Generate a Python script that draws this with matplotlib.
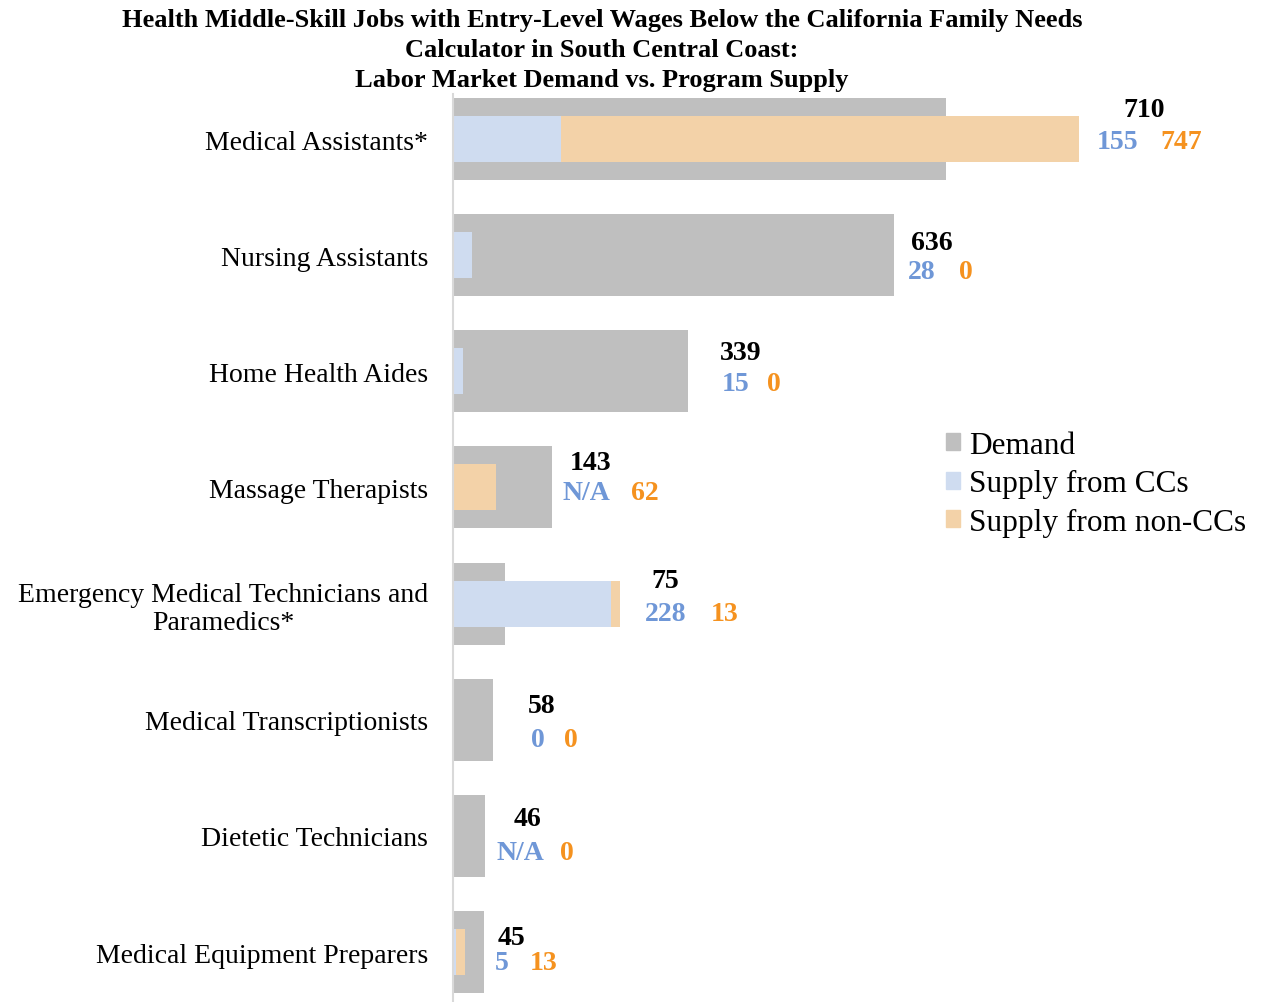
import matplotlib
matplotlib.use("Agg")
import matplotlib.pyplot as plt
from matplotlib.patches import Patch
from matplotlib.transforms import IdentityTransform

plt.rcParams["font.family"] = ["Liberation Serif", "DejaVu Serif"]

# data
categories = [
    "Medical Assistants*",
    "Nursing Assistants",
    "Home Health Aides",
    "Massage Therapists",
    "Emergency Medical Technicians and\nParamedics*",
    "Medical Transcriptionists",
    "Dietetic Technicians",
    "Medical Equipment Preparers",
]
demand = [710, 636, 339, 143, 75, 58, 46, 45]
supply_cc = [155, 28, 15, None, 228, 0, None, 5]   # None = N/A
supply_noncc = [747, 0, 0, 62, 13, 0, 0, 13]

title = ("Health Middle-Skill Jobs with Entry-Level Wages Below the California Family Needs\n"
         "Calculator in South Central Coast:\n"
         "Labor Market Demand vs. Program Supply")

# colours
c_demand = "#bfbfbf"
c_cc = "#cfdcf0"
c_noncc = "#f3d2a8"
c_cc_txt = "#6f97d7"
c_noncc_txt = "#f5921f"

# label layout tweaks (pixels): gap after bar, top-line shift, bottom-line drop, top-line rise, gap blue->orange
pad_x = [18, 13, 33, 10, 25, 38, 12, 11]
top_dx = [26, 4, -1, 8, 6, -3, 17, 2]
bot_dy = [2, 16, 12, 5, 10, 20, 17, 10]
top_rise = [32, 29, 31, 30, 33, 34, 34, 25]
mid_gap = [22, 24, 18, 21, 24, 19, 15, 21]

W, H = 1262, 1003
fig = plt.figure(figsize=(W / 100, H / 100), dpi=100)
ax = fig.add_axes([453 / W, 0, (W - 453) / W, 1 - 95 / H])

cc_vals = [v if v is not None else 0 for v in supply_cc]
ypos = list(range(len(categories)))

ax.barh(ypos, demand, height=0.706, color=c_demand, label="Demand")
ax.barh(ypos, cc_vals, height=0.396, color=c_cc, label="Supply from CCs")
ax.barh(ypos, supply_noncc, left=cc_vals, height=0.396, color=c_noncc,
        label="Supply from non-CCs")

ax.set_xlim(0, (W - 453) / 0.694)
ax.set_ylim(7.43, -0.3875)
ax.set_yticks(ypos)
ax.set_yticklabels(categories, fontsize=20, multialignment="center")
ax.tick_params(axis="y", length=0, pad=18)
ax.set_xticks([])
for s in ["top", "right", "bottom"]:
    ax.spines[s].set_visible(False)
ax.spines["left"].set_color("#d9d9d9")
ax.spines["left"].set_linewidth(1.5)

fig.text(602 / W, 1 - 9 / H, title, ha="center", va="top", fontsize=19,
         fontweight="bold", linespacing=1.4)

handles = [Patch(color=c_demand), Patch(color=c_cc), Patch(color=c_noncc)]
fig.legend(handles, ["Demand", "Supply from CCs", "Supply from non-CCs"],
           loc="upper left", bbox_to_anchor=(946 / W, 1 - 432 / H), frameon=False,
           fontsize=22.5, handlelength=0.45, handleheight=0.45, handletextpad=0.3,
           labelspacing=0.3, borderpad=0, borderaxespad=0)

fig.canvas.draw()
renderer = fig.canvas.get_renderer()
ident = IdentityTransform()
for i in ypos:
    end = max(demand[i], cc_vals[i] + supply_noncc[i])
    px, py = ax.transData.transform((end, i))
    bx = px + pad_x[i]
    by = py - bot_dy[i]
    cc_lab = "N/A" if supply_cc[i] is None else str(supply_cc[i])
    t_cc = fig.text(bx, by, cc_lab, transform=ident, ha="left", va="center",
                    fontsize=20, fontweight="bold", color=c_cc_txt)
    bb = t_cc.get_window_extent(renderer)
    fig.text(bb.x1 + mid_gap[i], by, str(supply_noncc[i]), transform=ident,
             ha="left", va="center", fontsize=20, fontweight="bold", color=c_noncc_txt)
    fig.text(bx + top_dx[i], by + top_rise[i], str(demand[i]), transform=ident,
             ha="left", va="center", fontsize=20, fontweight="bold", color="black")

fig.savefig("out.png", dpi=100)
